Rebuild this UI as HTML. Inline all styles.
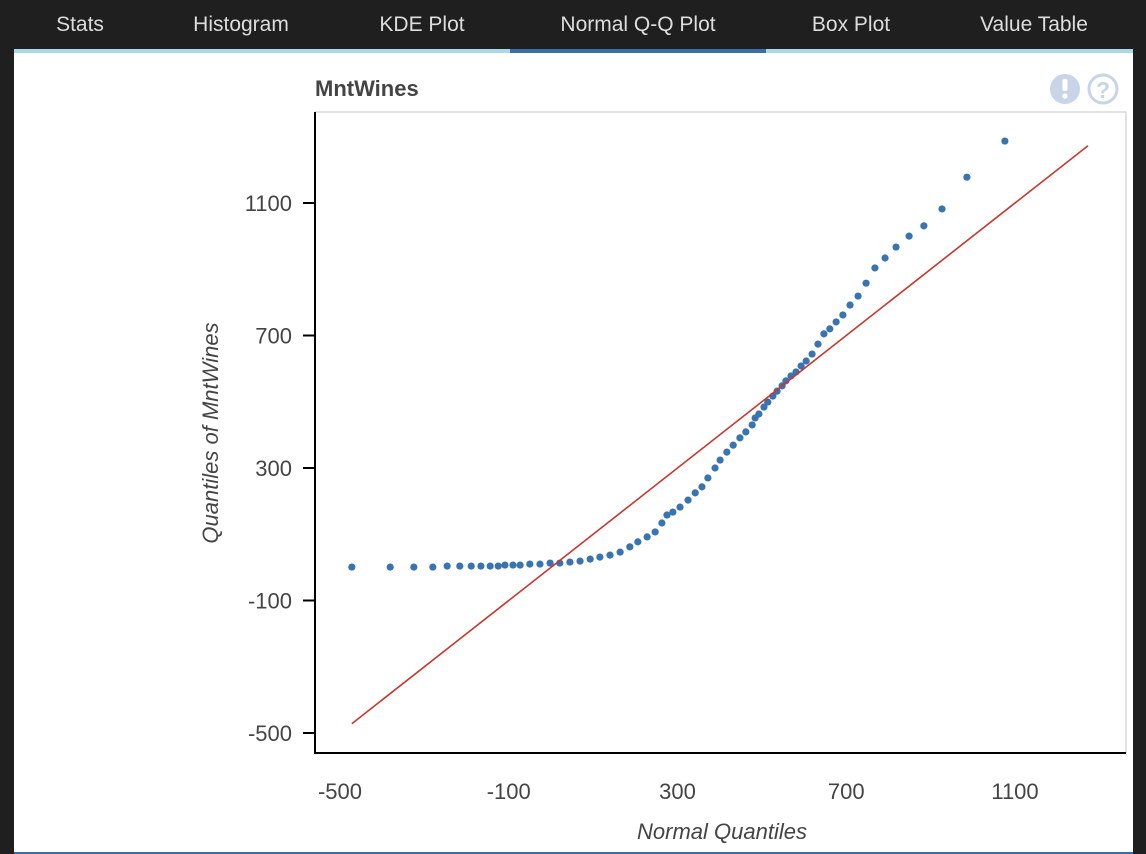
<!DOCTYPE html>
<html><head><meta charset="utf-8"><style>
html,body{margin:0;padding:0;width:1146px;height:854px;overflow:hidden;background:#1f1f1f;font-family:"Liberation Sans",sans-serif}
.tab{position:absolute;top:13px;color:#ddd;font-size:21px;transform:translateX(-50%);white-space:nowrap}
</style></head><body>
<div style="position:absolute;left:0;top:0;width:1146px;height:49px;background:#1f1f1f">
<div class="tab" style="left:80px">Stats</div>
<div class="tab" style="left:241px">Histogram</div>
<div class="tab" style="left:422px">KDE Plot</div>
<div class="tab" style="left:638px">Normal Q-Q Plot</div>
<div class="tab" style="left:851px">Box Plot</div>
<div class="tab" style="left:1034px">Value Table</div>
</div>
<div style="position:absolute;left:14px;top:49px;width:1119px;height:4px;background:#a9d8e6"></div>
<div style="position:absolute;left:510px;top:49px;width:256px;height:4px;background:#3a6ea8"></div>
<div style="position:absolute;left:14px;top:53px;width:1119px;height:799px;background:#fff"></div>
<div style="position:absolute;left:14px;top:852px;width:1119px;height:2px;background:#3a6ea8"></div>
<svg id="chart" width="1146" height="854" style="position:absolute;left:0;top:0" font-family="Liberation Sans, sans-serif">
<text x="315" y="96" font-size="22" font-weight="bold" fill="#444">MntWines</text>
<g><circle cx="1065" cy="89" r="15" fill="#c8d4e8"/><rect x="1062.5" y="79" width="5" height="12" rx="2" fill="#fff"/><circle cx="1065" cy="96" r="2.6" fill="#fff"/></g>
<g><circle cx="1103" cy="89" r="14" fill="none" stroke="#c8d4e8" stroke-width="3"/><text x="1103" y="98" font-size="23" text-anchor="middle" fill="#c8d4e8" font-weight="bold">?</text></g>
<line x1="315" y1="112" x2="1126" y2="112" stroke="#e2e2e2" stroke-width="2"/>
<line x1="1126" y1="112" x2="1126" y2="753" stroke="#e2e2e2" stroke-width="2"/>
<g id="marks"></g>
<line x1="315" y1="112" x2="315" y2="754" stroke="#000" stroke-width="2"/>
<line x1="314" y1="753" x2="1126" y2="753" stroke="#000" stroke-width="2"/>
<g id="axes"></g>
<text x="722" y="839" font-size="22" font-style="italic" text-anchor="middle" fill="#444">Normal Quantiles</text>
<text transform="translate(218,433) rotate(-90)" font-size="22" font-style="italic" text-anchor="middle" fill="#444">Quantiles of MntWines</text>
</svg>
<script>
const xTicks=[-500,-100,300,700,1100];
const yTicks=[-500,-100,300,700,1100];
const qqTheoretical=[-472,-381,-325,-280,-246,-216,-189,-166,-144,-125,-109,-90,-73,-50,-26,-2,21,45,69,93,116,140,164,187,206,228,247,263,275,289,306,325,342,358,372,389,401,417,432,448,462,477,484,493,505,514,526,536,548,557,569,581,593,605,619,633,647,661,676,692,709,728,747,768,792,818,849,884,927,986,1076];
const qqSample=[1,1,1,1,4,4,4,4,4,4,7,7,7,10,10,13,13,16,19,25,31,37,46,62,77,92,107,134,158,167,182,203,225,243,270,300,324,348,369,391,409,430,451,463,484,499,517,532,548,563,578,590,608,623,644,674,705,720,741,762,792,819,858,904,934,967,1000,1031,1082,1178,1287];
const refLineX=[-472,1273];
const NS='http://www.w3.org/2000/svg';
const X=v=>340+(v+500)*168.75/400;
const Y=v=>733-(v+500)*132.5/400;
const marks=document.getElementById('marks'),axes=document.getElementById('axes');
const n=Math.min(qqTheoretical.length,qqSample.length);
for(let i=0;i<n;i++){
 const c=document.createElementNS(NS,'circle');
 c.setAttribute('cx',X(qqTheoretical[i]));c.setAttribute('cy',Y(qqSample[i]));c.setAttribute('r',3.6);c.setAttribute('fill','#3a74b0');
 
 
 marks.appendChild(c);
}
const l=document.createElementNS(NS,'line');
l.setAttribute('x1',X(refLineX[0]));l.setAttribute('y1',Y(refLineX[0]));l.setAttribute('x2',X(refLineX[1]));l.setAttribute('y2',Y(refLineX[1]));
l.setAttribute('stroke','#c8372d');l.setAttribute('stroke-width','1.6');


marks.appendChild(l);
xTicks.forEach(v=>{
 const t=document.createElementNS(NS,'text');
 t.setAttribute('x',X(v));t.setAttribute('y',799);t.setAttribute('font-size','22');t.setAttribute('text-anchor','middle');t.setAttribute('fill','#444');
 t.textContent=v;
 
 
 axes.appendChild(t);
});
yTicks.forEach(v=>{
 const tk=document.createElementNS(NS,'line');
 tk.setAttribute('x1',303);tk.setAttribute('x2',316);tk.setAttribute('y1',Y(v));tk.setAttribute('y2',Y(v));tk.setAttribute('stroke','#000');tk.setAttribute('stroke-width','2');
 
 
 axes.appendChild(tk);
 const t=document.createElementNS(NS,'text');
 t.setAttribute('x',292);t.setAttribute('y',Y(v)+8);t.setAttribute('font-size','22');t.setAttribute('text-anchor','end');t.setAttribute('fill','#444');
 t.textContent=v;
 
 
 axes.appendChild(t);
});
</script>
</body></html>
